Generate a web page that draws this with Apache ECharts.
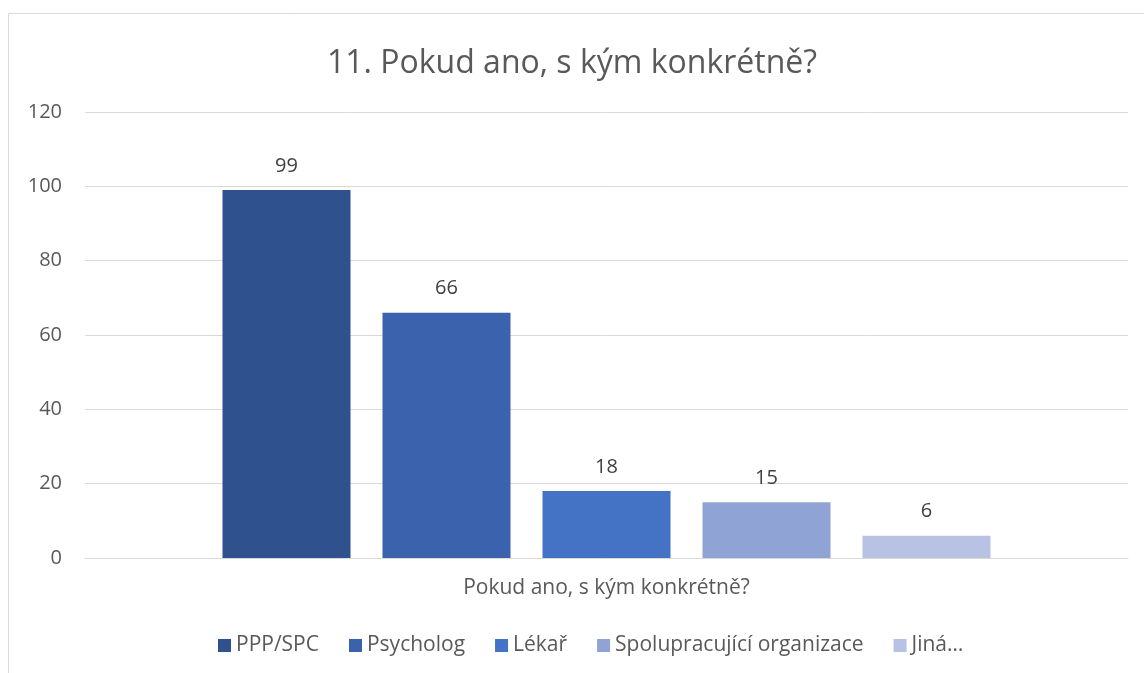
<!DOCTYPE html>
<html>
<head>
<meta charset="utf-8">
<script src="https://cdn.jsdelivr.net/npm/echarts@6/dist/echarts.min.js"></script>
<style>
  html, body { margin: 0; padding: 0; background: #fff; }
  #chart { width: 1144px; height: 673px; }
</style>
</head>
<body>
<div id="chart"></div>
<script>
// data
const category = ['Pokud ano, s kým konkrétně?']
const seriesNames = ['PPP/SPC', 'Psycholog', 'Lékař', 'Spolupracující organizace', 'Jiná…']
const seriesValues = [99, 66, 18, 15, 6]
const colors = ['#2F528F', '#3A62AD', '#4472C4', '#8FA3D4', '#B8C2E2']

const font = 'Open Sans, Noto Sans, sans-serif'

const chart = echarts.init(document.getElementById('chart'))

const series = seriesNames.map((name, i) => ({
  name: name,
  type: 'bar',
  data: [seriesValues[i]],
  barWidth: 128,
  barGap: '25%',
  itemStyle: { color: colors[i] },
  label: {
    show: true,
    position: 'top',
    distance: 14,
    color: '#404040',
    fontSize: 20,
    fontFamily: font
  },
  animation: false
}))

chart.setOption({
  backgroundColor: '#fff',
  graphic: [{
    type: 'rect',
    shape: { x: 8.5, y: 13.5, width: 1160, height: 700 },
    style: { fill: 'none', stroke: '#D9D9D9', lineWidth: 1 },
    silent: true
  }],
  title: {
    text: '11. Pokud ano, s kým konkrétně?',
    left: 'center',
    top: 43,
    textStyle: {
      color: '#595959',
      fontSize: 32,
      fontWeight: 'normal',
      fontFamily: font
    }
  },
  legend: {
    data: seriesNames,
    bottom: 12,
    left: 213,
    icon: 'rect',
    itemWidth: 13,
    itemHeight: 13,
    itemGap: 30,
    textStyle: { color: '#595959', fontSize: 21, fontFamily: font }
  },
  grid: {
    left: 85,
    right: 16,
    top: 112,
    bottom: 115,
    containLabel: false
  },
  xAxis: {
    type: 'category',
    data: category,
    axisLine: { lineStyle: { color: '#D9D9D9' } },
    axisTick: { show: false },
    axisLabel: { color: '#595959', fontSize: 21, fontFamily: font, margin: 20 }
  },
  yAxis: {
    type: 'value',
    min: 0,
    max: 120,
    interval: 20,
    axisLine: { show: false },
    axisTick: { show: false },
    splitLine: { lineStyle: { color: '#D9D9D9' } },
    axisLabel: { color: '#595959', fontSize: 20, fontFamily: font, margin: 23 }
  },
  series: series
})
</script>
</body>
</html>
